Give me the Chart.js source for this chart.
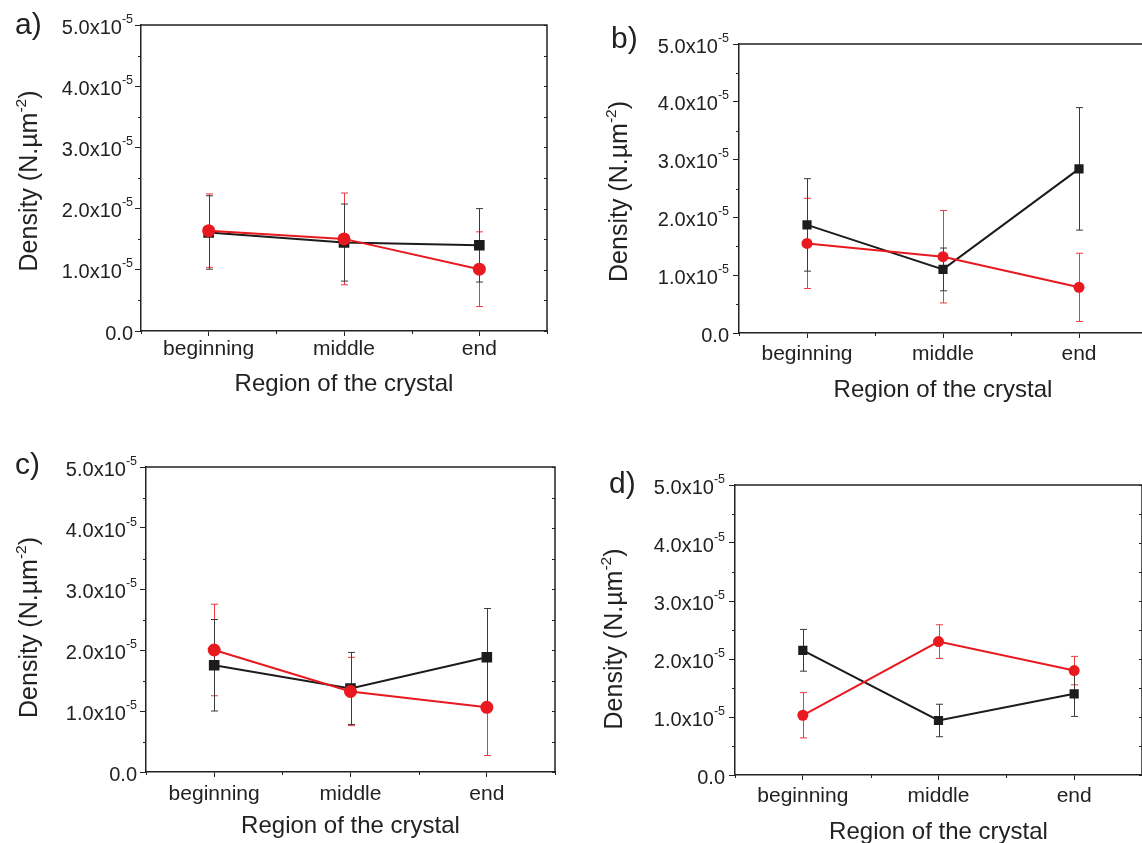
<!DOCTYPE html>
<html>
<head>
<meta charset="utf-8">
<script src="https://cdn.jsdelivr.net/npm/chart.js@4.4.1/dist/chart.umd.min.js"></script>
<style>
  html, body { margin: 0; padding: 0; background: #fff; }
  #page { position: relative; width: 1142px; height: 843px; overflow: hidden; background: #fff; }
  #page canvas { position: absolute; }
</style>
</head>
<body>
<div id="page">
  <canvas id="panelA"></canvas>
  <canvas id="panelB"></canvas>
  <canvas id="panelC"></canvas>
  <canvas id="panelD"></canvas>
</div>
<script>
// values in units of 1e-5 N.µm^-2
const regions = ['beginning', 'middle', 'end'];
const yTickValues = [0, 1, 2, 3, 4, 5];

const aBlack = [1.61, 1.445, 1.40];
const aBlackErr = [0.60, 0.63, 0.60];
const aRed = [1.64, 1.505, 1.01];
const aRedErr = [0.60, 0.75, 0.61];

const bBlack = [1.87, 1.10, 2.84];
const bBlackErr = [0.80, 0.37, 1.06];
const bRed = [1.55, 1.32, 0.79];
const bRedErr = [0.78, 0.80, 0.59];

const cBlack = [1.75, 1.37, 1.88];
const cBlackErr = [0.75, 0.59, 0.80];
const cRed = [2.00, 1.32, 1.06];
const cRedErr = [0.75, 0.56, 0.79];

const dBlack = [2.15, 0.94, 1.40];
const dBlackErr = [0.36, 0.28, 0.39];
const dRed = [1.03, 2.30, 1.80];
const dRedErr = [0.39, 0.29, 0.245];

const FONT = '"Liberation Sans", Arial, Helvetica, sans-serif';
const INK = '#222222';
const RED = '#e8191f';
const BLACK = '#1c1c1c';

// error bars, frame, minor ticks, y labels with superscripts
const panelDecor = {
  id: 'panelDecor',
  beforeDatasetsDraw(chart) {
    const ctx = chart.ctx;
    const xs = chart.scales.x, ys = chart.scales.y;
    chart.data.datasets.forEach(ds => {
      ctx.save();
      ctx.strokeStyle = ds.errorColor;
      ctx.lineWidth = 1;
      ds.data.forEach((v, j) => {
        const px = Math.round(xs.getPixelForValue(j)) + 0.5;
        const top = ys.getPixelForValue(v + ds.errors[j]);
        const bot = ys.getPixelForValue(v - ds.errors[j]);
        ctx.beginPath();
        ctx.moveTo(px, top); ctx.lineTo(px, bot);
        ctx.moveTo(px - 3.5, top); ctx.lineTo(px + 3.5, top);
        ctx.moveTo(px - 3.5, bot); ctx.lineTo(px + 3.5, bot);
        ctx.stroke();
      });
      ctx.restore();
    });
  },
  afterDraw(chart, args, opts) {
    const ctx = chart.ctx;
    const a = chart.chartArea;
    const xs = chart.scales.x, ys = chart.scales.y;
    ctx.save();
    ctx.strokeStyle = INK;
    ctx.fillStyle = INK;

    // top and right frame
    ctx.lineWidth = 1.5;
    ctx.beginPath();
    ctx.moveTo(a.left, a.top); ctx.lineTo(a.right, a.top); ctx.lineTo(a.right, a.bottom);
    ctx.stroke();

    // minor ticks
    ctx.lineWidth = 1;
    ctx.beginPath();
    for (let v = 0; v <= 5; v += 0.5) {
      const py = Math.round(ys.getPixelForValue(v)) + 0.5;
      if (v % 1 !== 0) { ctx.moveTo(a.left - 3, py); ctx.lineTo(a.left, py); }
      ctx.moveTo(a.right, py); ctx.lineTo(a.right - 3, py);
    }
    for (let k = -0.5; k <= regions.length - 0.5; k += 1) {
      const px = Math.round(xs.getPixelForValue(k)) + 0.5;
      ctx.moveTo(px, a.bottom); ctx.lineTo(px, a.bottom + 3);
    }
    ctx.stroke();

    // y tick labels, e.g. 2.0x10^-5
    const tickFont = '20px ' + FONT, supFont = '12.5px ' + FONT;
    ctx.textAlign = 'left';
    ctx.textBaseline = 'alphabetic';
    yTickValues.forEach(v => {
      const py = ys.getPixelForValue(v);
      const base = v === 0 ? '0.0' : v.toFixed(1) + 'x10';
      const sup = v === 0 ? '' : '-5';
      ctx.font = supFont;
      const sw = sup ? ctx.measureText(sup).width : 0;
      ctx.font = tickFont;
      const bw = ctx.measureText(base).width;
      const right = a.left - opts.tickGap;
      ctx.fillText(base, right - sw - bw, py + 8.5);
      if (sup) { ctx.font = supFont; ctx.fillText(sup, right - sw, py - 2.5); }
    });

    // y axis title
    const tFont = '25px ' + FONT, tSup = '15.5px ' + FONT;
    const p1 = 'Density (N.\u00b5m', p2 = '-2', p3 = ')';
    ctx.font = tFont; const w1 = ctx.measureText(p1).width, w3 = ctx.measureText(p3).width;
    ctx.font = tSup; const w2 = ctx.measureText(p2).width;
    const total = w1 + w2 + w3;
    ctx.translate(a.left - opts.titleGap, (a.top + a.bottom) / 2 + opts.titleShift);
    ctx.rotate(-Math.PI / 2);
    let sx = -total / 2;
    ctx.font = tFont; ctx.fillText(p1, sx, 0); sx += w1;
    ctx.font = tSup; ctx.fillText(p2, sx, -11.5); sx += w2;
    ctx.font = tFont; ctx.fillText(p3, sx, 0);
    ctx.setTransform(1, 0, 0, 1, 0, 0);

    // panel letter
    ctx.font = '30px ' + FONT;
    ctx.fillText(opts.letter, opts.letterX, opts.letterY);
    ctx.restore();
  }
};

function makePanel(id, box, area, black, blackErr, red, redErr, decor) {
  const el = document.getElementById(id);
  el.width = box.w; el.height = box.h;
  el.style.left = box.left + 'px';
  el.style.top = box.top + 'px';
  const left = area.left - box.left, top = area.top - box.top;
  const right = area.right - box.left, bottom = area.bottom - box.top;
  const xAxisH = box.titleCenter - 1 + 14.4;
  return new Chart(el, {
    type: 'line',
    data: {
      labels: regions,
      datasets: [
        {
          data: red, errors: redErr, errorColor: '#ee3a40',
          borderColor: RED, backgroundColor: RED, borderWidth: 2,
          pointStyle: 'circle', pointRadius: box.dot, pointBorderWidth: 0,
          order: 0
        },
        {
          data: black, errors: blackErr, errorColor: '#3a3a3a',
          borderColor: BLACK, backgroundColor: BLACK, borderWidth: 2,
          pointStyle: 'rect', pointRadius: box.sq, pointBorderWidth: 0,
          order: 1
        }
      ]
    },
    options: {
      responsive: false,
      animation: false,
      layout: {
        padding: { left: 0, top: top, right: box.w - right, bottom: box.h - bottom - xAxisH }
      },
      scales: {
        x: {
          type: 'category',
          offset: true,
          afterFit: s => { s.height = xAxisH; },
          grid: { drawOnChartArea: false, drawTicks: true, tickLength: 5, color: INK },
          border: { color: INK, width: 1.5 },
          ticks: { color: INK, font: { family: FONT, size: 21 }, padding: box.labelPad, maxRotation: 0 },
          title: {
            display: true, text: 'Region of the crystal', color: INK,
            font: { family: FONT, size: 24 }, padding: 0
          }
        },
        y: {
          min: 0, max: 5,
          afterFit: s => { s.width = left; },
          afterBuildTicks: s => { s.ticks = yTickValues.map(v => ({ value: v })); },
          grid: { drawOnChartArea: false, drawTicks: true, tickLength: 6, color: INK },
          border: { color: INK, width: 1.5 },
          ticks: { display: false }
        }
      },
      plugins: {
        legend: { display: false },
        tooltip: { enabled: false },
        panelDecor: decor
      }
    },
    plugins: [panelDecor]
  });
}

makePanel('panelA',
  { left: 0, top: 0, w: 570, h: 420, titleCenter: 54, labelPad: 0.5, dot: 6.5, sq: 7.5 },
  { left: 141, top: 25, right: 547, bottom: 331 },
  aBlack, aBlackErr, aRed, aRedErr,
  { letter: 'a)', letterX: 15, letterY: 34, tickGap: 8, titleGap: 104, titleShift: 3 });

makePanel('panelB',
  { left: 600, top: 0, w: 560, h: 430, titleCenter: 58, labelPad: 3.5, dot: 5.5, sq: 6.5 },
  { left: 739, top: 44, right: 1147, bottom: 333 },
  bBlack, bBlackErr, bRed, bRedErr,
  { letter: 'b)', letterX: 11, letterY: 48, tickGap: 10, titleGap: 112, titleShift: 3 });

makePanel('panelC',
  { left: 0, top: 430, w: 570, h: 413, titleCenter: 55, labelPad: 4.5, dot: 6.5, sq: 7.5 },
  { left: 146, top: 467, right: 555, bottom: 772 },
  cBlack, cBlackErr, cRed, cRedErr,
  { letter: 'c)', letterX: 15, letterY: 44, tickGap: 9, titleGap: 109, titleShift: 8 });

makePanel('panelD',
  { left: 600, top: 440, w: 560, h: 410, titleCenter: 58, labelPad: 3.5, dot: 5.5, sq: 6.5 },
  { left: 735, top: 485, right: 1142, bottom: 775 },
  dBlack, dBlackErr, dRed, dRedErr,
  { letter: 'd)', letterX: 9, letterY: 53, tickGap: 10, titleGap: 113, titleShift: 9 });
</script>
</body>
</html>
